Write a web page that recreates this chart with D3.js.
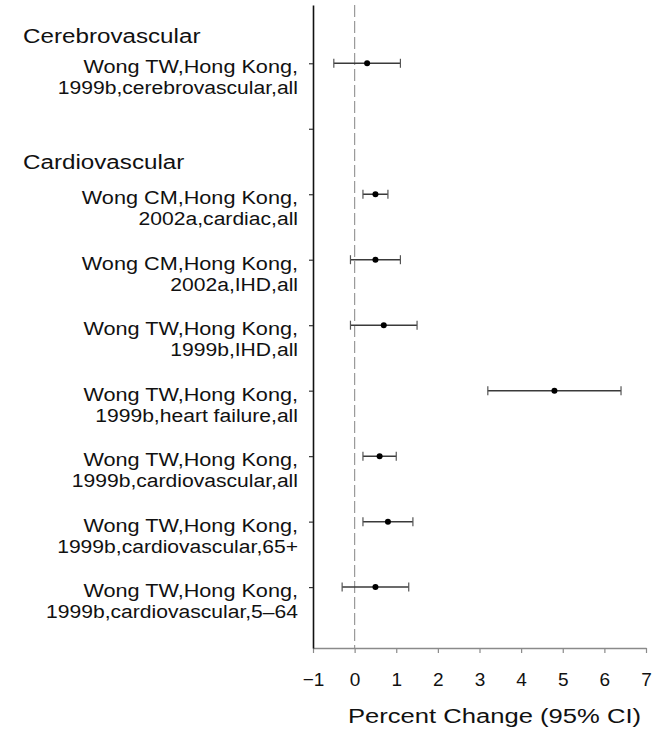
<!DOCTYPE html>
<html>
<head>
<meta charset="utf-8">
<script src="https://cdn.jsdelivr.net/npm/d3@7"></script>
<style>
  body { margin: 0; background: #fff; }
  text { font-family: "Liberation Sans", Arial, Helvetica, sans-serif; fill: #111; }
</style>
</head>
<body>
<div id="chart"></div>
<script>
// ----- data -----
const groupNames = ["Cerebrovascular", "Cardiovascular"];
const groupPos = [0.57, 2.5];

const studyLine1 = [
    "Wong TW,Hong Kong,",
    "Wong CM,Hong Kong,",
    "Wong CM,Hong Kong,",
    "Wong TW,Hong Kong,",
    "Wong TW,Hong Kong,",
    "Wong TW,Hong Kong,",
    "Wong TW,Hong Kong,",
    "Wong TW,Hong Kong,"
];
const studyLine2 = [
    "1999b,cerebrovascular,all",
    "2002a,cardiac,all",
    "2002a,IHD,all",
    "1999b,IHD,all",
    "1999b,heart failure,all",
    "1999b,cardiovascular,all",
    "1999b,cardiovascular,65+",
    "1999b,cardiovascular,5\u201364"
];
const rowPos = [1, 3, 4, 5, 6, 7, 8, 9];
const estimate = [0.3, 0.5, 0.5, 0.7, 4.8, 0.6, 0.8, 0.5];
const lower = [-0.5, 0.2, -0.1, -0.1, 3.2, 0.2, 0.2, -0.3];
const upper = [1.1, 0.8, 1.1, 1.5, 6.4, 1.0, 1.4, 1.3];

const xTicks = [-1, 0, 1, 2, 3, 4, 5, 6, 7];
const yTicks = [1, 2, 3, 4, 5, 6, 7, 8, 9];
const xTitle = "Percent Change (95% CI)";

// ----- layout -----
const svgWidth = 654;
const svgHeight = 732;

const x = d3.scaleLinear().domain([-1, 7]).range([313, 646]);
const y = d3.scaleLinear().domain([0.11, 9.93]).range([5, 648]);

const svg = d3.select('#chart').append('svg')
    .attr('width', svgWidth)
    .attr('height', svgHeight);

// reference line at zero
svg.append('line')
    .attr('x1', x(0)).attr('x2', x(0))
    .attr('y1', y.range()[0]).attr('y2', y.range()[1])
    .attr('stroke', '#9a9a9a')
    .attr('stroke-width', 1.2)
    .attr('stroke-dasharray', '12,4');

// x axis
const gx = svg.append('g')
    .attr('transform', `translate(0,${y.range()[1]})`)
    .call(d3.axisBottom(x).tickValues(xTicks).tickSize(5).tickSizeOuter(0).tickPadding(20));
gx.select('.domain').attr('stroke', '#8a8a8a').attr('stroke-width', 1.3);
gx.selectAll('.tick line').attr('stroke', '#8a8a8a').attr('stroke-width', 1.2);
gx.selectAll('.tick text')
    .attr('font-size', 19)
    .attr('font-family', '"Liberation Sans", Arial, sans-serif')
    .attr('fill', '#111');

// y axis
const gy = svg.append('g')
    .attr('transform', `translate(${x(-1)},0)`)
    .call(d3.axisLeft(y).tickValues(yTicks).tickFormat('').tickSize(4).tickSizeOuter(0));
gy.select('.domain').attr('stroke', '#111').attr('stroke-width', 1.6);
gy.selectAll('.tick line').attr('stroke', '#333').attr('stroke-width', 1.2);

// axis title
svg.append('text')
    .attr('transform', `translate(494.5,723) scale(1.28,1)`)
    .attr('text-anchor', 'middle')
    .attr('font-size', 20)
    .text(xTitle);

// group headings
svg.selectAll('text.group')
    .data(groupNames)
    .enter()
    .append('text')
    .attr('class', 'group')
    .attr('transform', (d, i) => `translate(23,${y(groupPos[i]) + 8}) scale(1.21,1)`)
    .attr('font-size', 20)
    .text(d => d);

// study labels (two lines each)
const labels = svg.selectAll('g.label')
    .data(rowPos)
    .enter()
    .append('g')
    .attr('class', 'label');
labels.append('text')
    .attr('transform', d => `translate(298,${y(d) + 10}) scale(1.14,1)`)
    .attr('text-anchor', 'end')
    .attr('font-size', 19)
    .text((d, i) => studyLine1[i]);
labels.append('text')
    .attr('transform', d => `translate(298,${y(d) + 31}) scale(1.11,1)`)
    .attr('text-anchor', 'end')
    .attr('font-size', 19)
    .text((d, i) => studyLine2[i]);

// confidence intervals
const bars = svg.selectAll('g.ci')
    .data(rowPos)
    .enter()
    .append('g')
    .attr('class', 'ci');
bars.append('line')
    .attr('x1', (d, i) => x(lower[i]))
    .attr('x2', (d, i) => x(upper[i]))
    .attr('y1', d => y(d)).attr('y2', d => y(d))
    .attr('stroke', '#3a3a3a')
    .attr('stroke-width', 1.5);
bars.append('line')
    .attr('x1', (d, i) => x(lower[i])).attr('x2', (d, i) => x(lower[i]))
    .attr('y1', d => y(d) - 4.5).attr('y2', d => y(d) + 4.5)
    .attr('stroke', '#555')
    .attr('stroke-width', 1.2);
bars.append('line')
    .attr('x1', (d, i) => x(upper[i])).attr('x2', (d, i) => x(upper[i]))
    .attr('y1', d => y(d) - 4.5).attr('y2', d => y(d) + 4.5)
    .attr('stroke', '#555')
    .attr('stroke-width', 1.2);
bars.append('circle')
    .attr('cx', (d, i) => x(estimate[i]))
    .attr('cy', d => y(d))
    .attr('r', 3)
    .attr('fill', '#000');
</script>
</body>
</html>
